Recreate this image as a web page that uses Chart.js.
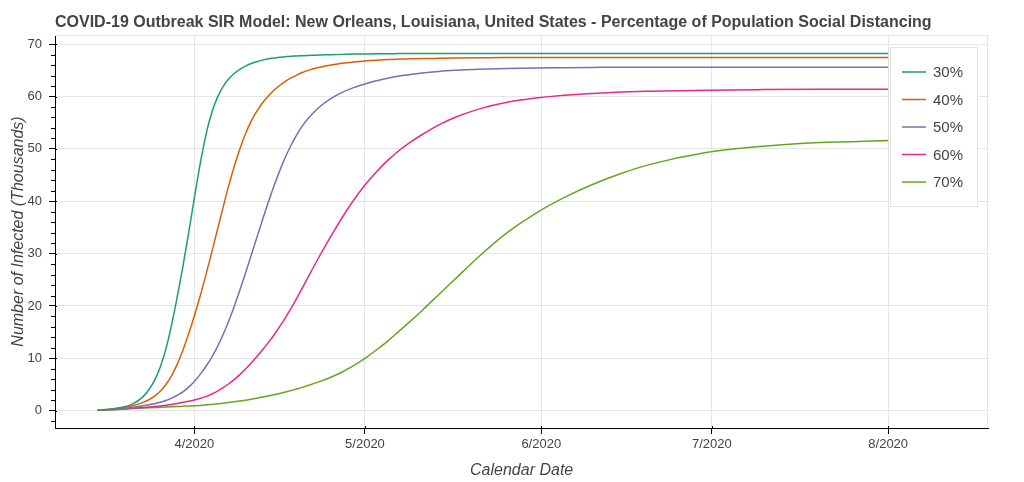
<!DOCTYPE html>
<html><head><meta charset="utf-8">
<script src="https://cdn.jsdelivr.net/npm/chart.js@4.4.0/dist/chart.umd.min.js"></script>
<style>html,body{margin:0;padding:0;background:#fff;}#wrap{width:1024px;height:482px;}</style>
</head><body><div id="wrap"><canvas id="c" width="1024" height="482"></canvas></div>
<script>
const chartTitle = 'COVID-19 Outbreak SIR Model: New Orleans, Louisiana, United States - Percentage of Population Social Distancing';
const xTitle = 'Calendar Date';
const yTitle = 'Number of Infected (Thousands)';

// x values: days relative to 2020-04-01
const days = [-17,-15,-13,-11,
  -9,-8,-7,-6,-5,-4,-3,-2,-1,
  0,1,2,3,4,5,6,7,8,9,10,11,12,13,14,15,16,17,18,19,20,
  22,24,26,28,30,32,34,36,38,40,
  43,46,
  50,55,60,65,70,75,80,
  90,100,110,122];
const seriesLabels = ['30%','40%','50%','60%','70%'];
const s30 = [0.1,0.3,0.6,1.2,
  2.7,4.0,5.8,8.3,11.8,16.4,21.8,27.6,34.0,
  40.6,47.0,52.5,56.7,59.7,61.8,63.3,64.4,65.2,65.8,66.3,66.65,66.95,67.2,67.35,67.5,67.6,67.7,67.75,67.8,67.85,
  67.95,68.0,68.05,68.1,68.1,68.15,68.15,68.2,68.2,68.2,
  68.2,68.2,
  68.2,68.2,68.2,68.2,68.2,68.2,68.2,
  68.2,68.2,68.2,68.2];
const s40 = [0.1,0.25,0.5,0.9,
  1.6,2.1,2.8,3.7,5.0,6.7,8.9,11.6,14.7,
  18.1,21.8,25.8,30.0,34.3,38.6,42.8,46.6,50.0,52.9,55.3,57.2,58.8,60.1,61.2,62.1,62.9,63.55,64.1,64.6,65.0,
  65.6,66.0,66.35,66.6,66.8,66.95,67.05,67.15,67.2,67.25,
  67.3,67.35,
  67.4,67.45,67.45,67.45,67.45,67.45,67.45,
  67.45,67.45,67.45,67.45];
const s50 = [0.1,0.2,0.35,0.6,
  0.95,1.15,1.35,1.6,1.95,2.4,2.95,3.6,4.5,
  5.6,6.9,8.4,10.1,12.1,14.4,17.0,19.9,23.0,26.3,29.7,33.1,36.5,39.8,42.9,45.8,48.4,50.7,52.7,54.4,55.8,
  58.0,59.6,60.8,61.7,62.4,63.0,63.5,63.9,64.2,64.5,
  64.8,65.0,
  65.2,65.35,65.45,65.5,65.55,65.6,65.6,
  65.6,65.6,65.6,65.6];
const s60 = [0.1,0.2,0.3,0.45,
  0.6,0.7,0.8,0.9,1.05,1.2,1.4,1.6,1.8,
  2.05,2.35,2.7,3.15,3.7,4.35,5.1,5.95,6.9,7.95,9.1,10.35,11.65,13.0,14.45,16.05,17.75,19.55,21.45,23.45,25.5,
  29.5,33.3,36.9,40.2,43.1,45.6,47.8,49.7,51.3,52.7,
  54.6,56.1,
  57.6,58.9,59.7,60.25,60.6,60.85,61.0,
  61.22,61.32,61.37,61.4];
const s70 = [0.1,0.2,0.3,0.4,
  0.5,0.55,0.6,0.65,0.7,0.75,0.8,0.85,0.9,
  0.95,1.02,1.1,1.2,1.3,1.42,1.55,1.7,1.85,2.02,2.2,2.4,2.6,2.82,3.05,3.3,3.56,3.84,4.14,4.46,4.8,
  5.55,6.4,7.4,8.6,10.0,11.6,13.3,15.2,17.1,19.1,
  22.2,25.3,
  29.4,34.0,37.7,40.7,43.2,45.3,47.0,
  49.3,50.5,51.2,51.6];
const seriesValues = [s30, s40, s50, s60, s70];
const seriesColors = ['#1b9e77','#d95f02','#7570b3','#e7298a','#66a61e'];

const xTickDays = [0,30,61,91,122];
const xTickLabels = ['4/2020','5/2020','6/2020','7/2020','8/2020'];
const yTicks = [0,10,20,30,40,50,60,70];

const FONT = '"Liberation Sans", Arial, Helvetica, sans-serif';
const TXT = '#444444';

const decor = {
  id: 'decor',
  beforeDraw(chart) {
    const c = chart.ctx;
    c.save(); c.fillStyle = '#fff'; c.fillRect(0, 0, chart.width, chart.height); c.restore();
  },
  beforeDatasetsDraw(chart) {
    const c = chart.ctx, a = chart.chartArea;
    c.save();
    c.strokeStyle = '#e5e5e5'; c.lineWidth = 1;
    c.beginPath();
    c.moveTo(a.left, Math.round(a.top) + 0.5); c.lineTo(a.right, Math.round(a.top) + 0.5);
    c.moveTo(Math.round(a.right) - 0.5, a.top); c.lineTo(Math.round(a.right) - 0.5, a.bottom);
    c.stroke();
    c.restore();
  },
  afterDatasetsDraw(chart) {
    const c = chart.ctx;
    const bx = 890, by = 47, bw = 87, bh = 159;
    c.save();
    c.fillStyle = 'rgba(255,255,255,0.95)';
    c.fillRect(bx, by, bw, bh);
    c.strokeStyle = '#e5e5e5'; c.lineWidth = 1;
    c.strokeRect(bx + 0.5, by + 0.5, bw, bh);
    c.font = '15px ' + FONT;
    c.textBaseline = 'middle'; c.textAlign = 'left';
    chart.data.datasets.forEach((ds, i) => {
      const y = 72 + i * 27.5;
      c.strokeStyle = ds.borderColor; c.lineWidth = 1.5;
      c.beginPath(); c.moveTo(902, y); c.lineTo(926, y); c.stroke();
      c.fillStyle = TXT;
      c.fillText(ds.label, 933, y + 1);
    });
    c.restore();
  },
  afterDraw(chart) {
    const c = chart.ctx, a = chart.chartArea;
    const ys = chart.scales.y, xs = chart.scales.x;
    c.save();
    c.strokeStyle = '#000'; c.lineWidth = 1;
    c.beginPath();
    for (let v = -2; v <= 70; v += 2) {
      const py = Math.round(ys.getPixelForValue(v)) + 0.5;
      if (v % 10 === 0) { c.moveTo(a.left, py); c.lineTo(a.left + 2, py); }
      else { c.moveTo(a.left - 4, py); c.lineTo(a.left, py); }
    }
    xTickDays.forEach(d => {
      const px = Math.round(xs.getPixelForValue(d)) + 0.5;
      c.moveTo(px, a.bottom); c.lineTo(px, a.bottom - 2);
    });
    c.stroke();
    c.fillStyle = TXT;
    c.font = 'bold 16px ' + FONT;
    c.textAlign = 'left'; c.textBaseline = 'alphabetic';
    c.fillText(chartTitle, 55, 26.5);
    c.font = 'italic 16px ' + FONT;
    c.textAlign = 'center';
    c.fillText(xTitle, (a.left + a.right) / 2, 474.5);
    c.translate(22.5, (a.top + a.bottom) / 2);
    c.rotate(-Math.PI / 2);
    c.fillText(yTitle, 0, 0);
    c.restore();
  }
};

const datasets = seriesLabels.map((lab, i) => ({
  label: lab,
  data: days.map((d, j) => ({ x: d, y: seriesValues[i][j] })),
  borderColor: seriesColors[i],
  backgroundColor: seriesColors[i],
  borderWidth: 1.5,
  pointRadius: 0,
  fill: false,
  cubicInterpolationMode: 'monotone'
}));

new Chart(document.getElementById('c'), {
  type: 'line',
  data: { datasets },
  plugins: [decor],
  options: {
    responsive: false,
    devicePixelRatio: 1,
    animation: false,
    layout: { padding: { top: 35, right: 35.7, left: 0, bottom: 0 } },
    plugins: { legend: { display: false }, tooltip: { enabled: false }, title: { display: false } },
    scales: {
      x: {
        type: 'linear', min: -24.5, max: 139.6,
        afterBuildTicks: (s) => { s.ticks = xTickDays.map(v => ({ value: v })); },
        afterFit: (s) => { s.height = 54; },
        ticks: {
          color: TXT, font: { size: 13, family: FONT }, padding: 3, maxRotation: 0, autoSkip: false,
          callback: (v) => { const k = xTickDays.indexOf(v); return k >= 0 ? xTickLabels[k] : ''; }
        },
        grid: { color: '#e5e5e5', tickColor: '#000', tickLength: 6, lineWidth: 1 },
        border: { color: '#000', width: 1 }
      },
      y: {
        type: 'linear', min: -3.3, max: 71.75,
        afterBuildTicks: (s) => { s.ticks = yTicks.map(v => ({ value: v })); },
        afterFit: (s) => { s.width = 55; },
        ticks: { color: TXT, font: { size: 13, family: FONT }, padding: 7, autoSkip: false },
        grid: { color: '#e5e5e5', tickColor: '#000', tickLength: 6, lineWidth: 1 },
        border: { color: '#000', width: 1 }
      }
    }
  }
});
</script></body></html>
